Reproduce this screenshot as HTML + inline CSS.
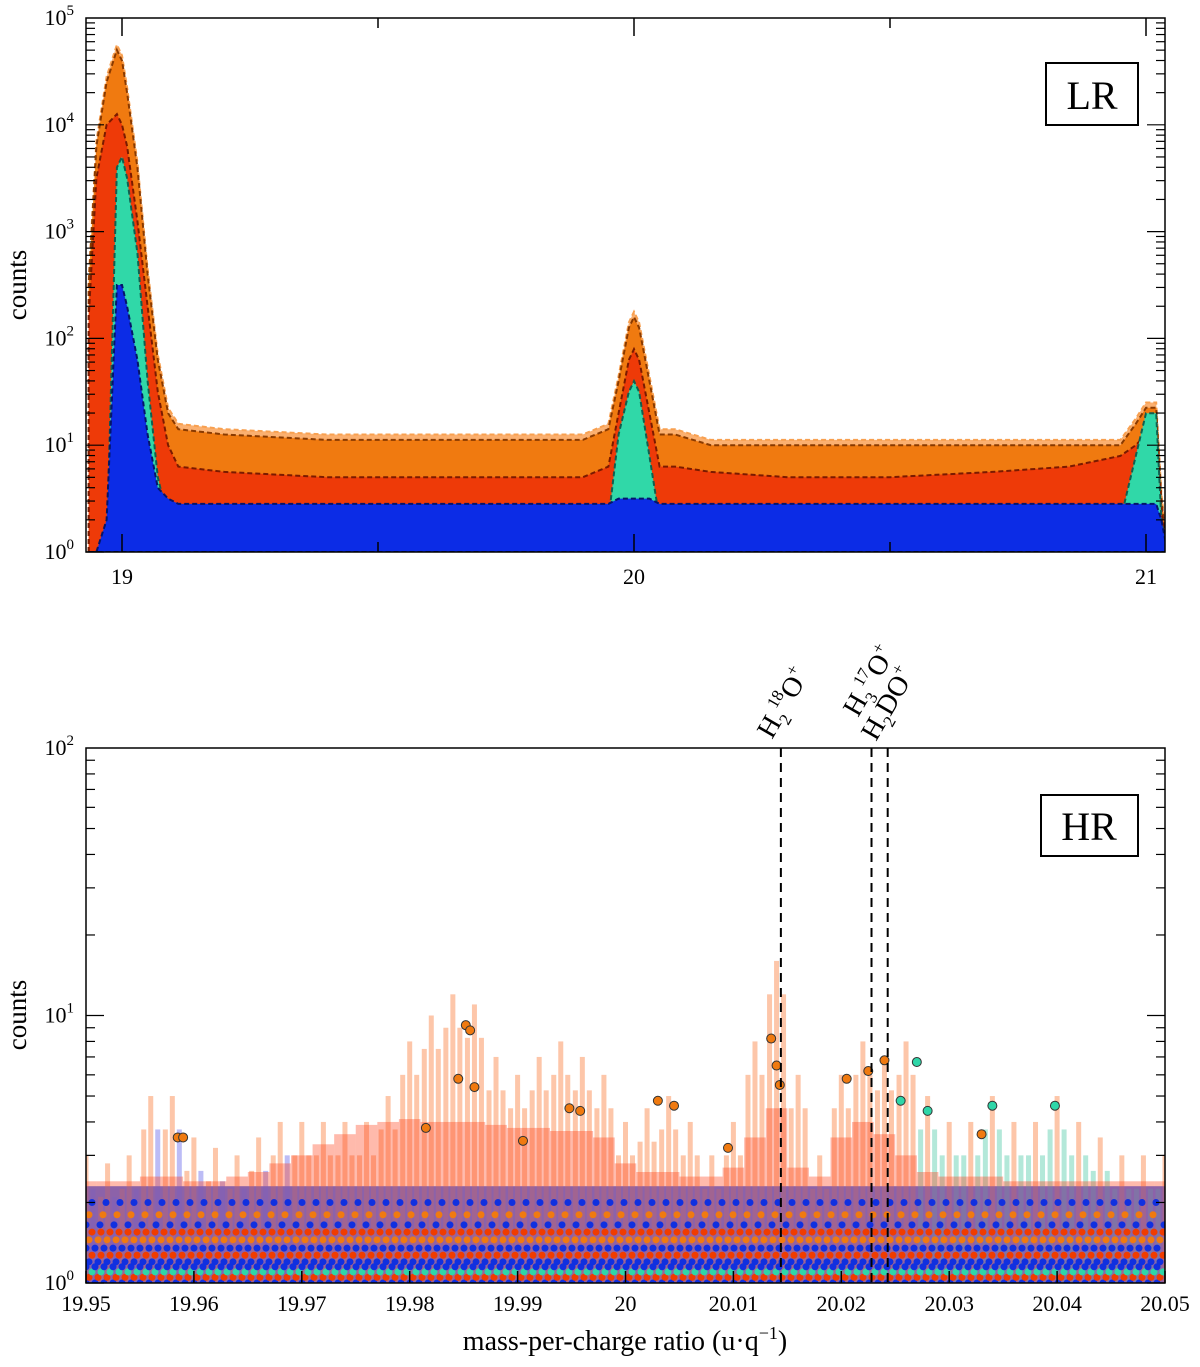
<!DOCTYPE html>
<html><head><meta charset="utf-8">
<style>
html,body{margin:0;padding:0;background:#fff;}
svg{display:block;font-family:"Liberation Serif",serif;}
</style></head>
<body>
<svg id="chart" width="1200" height="1367" viewBox="0 0 1200 1367" xmlns="http://www.w3.org/2000/svg">
<g id="lr"></g>
<g id="hr"></g>
</svg>
<script>
// ---------- LR panel data (log10 counts envelopes) ----------
const lrX = [18.935,18.95,18.97,18.99,19.0,19.01,19.03,19.05,19.07,19.09,19.11,19.2,19.4,19.6,19.8,19.9,19.95,19.97,19.99,20.0,20.01,20.03,20.05,20.08,20.15,20.3,20.5,20.7,20.85,20.95,20.98,21.0,21.02,21.03,21.04];
const lrOrange = [2.5,3.8,4.4,4.7,4.6,4.3,3.6,2.6,1.8,1.3,1.15,1.1,1.05,1.05,1.05,1.05,1.15,1.6,2.1,2.2,2.1,1.6,1.1,1.1,1.0,1.0,1.0,1.0,1.0,1.0,1.2,1.35,1.35,0.5,0.05];
const lrRed = [2.2,3.5,4.0,4.1,4.0,3.8,3.1,2.3,1.5,1.0,0.8,0.75,0.7,0.7,0.7,0.7,0.8,1.3,1.8,1.9,1.8,1.3,0.8,0.8,0.75,0.7,0.7,0.75,0.8,0.9,1.0,1.1,1.1,0.4,0.05];
const lrTeal = [0,0,0,3.6,3.7,3.5,2.8,1.6,0.7,0.3,0.2,0.2,0.2,0.2,0.2,0.2,0.3,1.1,1.5,1.6,1.5,0.9,0.3,0.3,0.2,0.2,0.2,0.2,0.2,0.3,0.9,1.3,1.3,0.3,0];
const lrBlue = [0,0,0.3,2.5,2.5,2.3,1.8,1.1,0.6,0.5,0.45,0.45,0.45,0.45,0.45,0.45,0.45,0.5,0.5,0.5,0.5,0.5,0.45,0.45,0.45,0.45,0.45,0.45,0.45,0.45,0.45,0.45,0.45,0.3,0.05];
const lrXTicks = [19,20,21];
const lrYTicks = [0,1,2,3,4,5];

// ---------- HR panel data (counts) ----------
const hrX = [19.950,19.952,19.954,19.956,19.958,19.960,19.962,19.964,19.966,19.968,19.970,19.972,19.974,19.976,19.978,19.980,19.982,19.984,19.986,19.988,19.990,19.992,19.994,19.996,19.998,20.000,20.002,20.004,20.006,20.008,20.010,20.012,20.014,20.016,20.018,20.020,20.022,20.024,20.026,20.028,20.030,20.032,20.034,20.036,20.038,20.040,20.042,20.044,20.046,20.048,20.050];
const hrTop = [3,2.8,3,5,5,3.5,3.2,3,3.5,4,4,4,4,4,5,8,10,12,11,7,6,7,8,7,6,4,4.5,5,4,3,4,8,16,6,3,6,8,7,8,5,4,4,5,4,4,5,4,3.5,3,3,3];
const hrRed = [2.4,2.4,2.4,2.5,2.5,2.4,2.4,2.5,2.6,2.8,3.0,3.3,3.6,3.9,4.0,4.1,4.0,4.0,4.0,3.9,3.8,3.8,3.7,3.7,3.5,2.8,2.6,2.6,2.5,2.5,2.7,3.5,4.5,2.7,2.5,3.5,4.0,3.6,3.0,2.6,2.5,2.5,2.5,2.4,2.4,2.4,2.4,2.4,2.4,2.4,2.4];
const hrPtX = [19.9585,19.9590,19.9852,19.9856,19.9845,19.9860,19.9948,19.9958,20.0030,20.0045,20.0135,20.0140,20.0143,20.0205,20.0225,20.0240,20.0255,20.0270,20.0280,20.0340,20.0398,20.0330,19.9905,19.9815,20.0095];
const hrPtY = [3.5,3.5,9.2,8.8,5.8,5.4,4.5,4.4,4.8,4.6,8.2,6.5,5.5,5.8,6.2,6.8,4.8,6.7,4.4,4.6,4.6,3.6,3.4,3.8,3.2];
const hrPtC = ["o","o","o","o","o","o","o","o","o","o","o","o","o","o","o","o","t","t","t","t","t","o","o","o","o"];
const hrXTicks = [19.95,19.96,19.97,19.98,19.99,20,20.01,20.02,20.03,20.04,20.05];
const hrXLabels = ["19.95","19.96","19.97","19.98","19.99","20","20.01","20.02","20.03","20.04","20.05"];
const hrLines = [20.0144,20.0228,20.0243];

const NS="http://www.w3.org/2000/svg";
function mk(tag,attrs,parent){const e=document.createElementNS(NS,tag);for(const k in attrs)e.setAttribute(k,attrs[k]);parent.appendChild(e);return e;}
const lr=document.getElementById('lr'), hr=document.getElementById('hr');

const L={x0:86,x1:1165,y0:18,y1:552};
const lx=v=>122+(v-19)*512, ly=l=>552-l*106.8;
const H={x0:86,x1:1165,y0:748,y1:1283};
const hx=v=>86+(v-19.95)*10790, hy=c=>1283-Math.log10(c)*267.5;

mk('clipPath',{id:'clipL'},lr); mk('rect',{x:L.x0,y:L.y0,width:L.x1-L.x0,height:L.y1-L.y0},document.getElementById('clipL'));
mk('clipPath',{id:'clipH'},hr); mk('rect',{x:H.x0,y:H.y0,width:H.x1-H.x0,height:H.y1-H.y0},document.getElementById('clipH'));

function area(parent,ys,fill,stroke,name){
  let d='M'+lx(lrX[0])+','+ly(0);
  for(let i=0;i<lrX.length;i++) d+=' L'+lx(lrX[i]).toFixed(1)+','+ly(ys[i]).toFixed(1);
  d+=' L'+lx(lrX[lrX.length-1])+','+ly(0)+' Z';
  const p=mk('path',{d:d,fill:fill,stroke:stroke,'stroke-width':2,'stroke-dasharray':'5 3','clip-path':'url(#clipL)'},parent);
  
  
}
area(lr,lrOrange.map(v=>v+0.05),'#fbb070','#f8a050','lr-orange-halo');
area(lr,lrOrange,'#f07a10','#8a3a00','lr-orange-series');
area(lr,lrRed,'#ee3a08','#7a1a00','lr-red-series');
area(lr,lrTeal,'#30d8a8','#106050','lr-teal-series');
area(lr,lrBlue,'#0c2ce6','#05156a','lr-blue-series');

function frame(parent,R,name){const r=mk('rect',{x:R.x0,y:R.y0,width:R.x1-R.x0,height:R.y1-R.y0,fill:'none',stroke:'#000','stroke-width':1.5},parent);}
frame(lr,L,'lr-axes-frame');
for(let d=0;d<5;d++){for(let m=1;m<10;m++){const y=ly(d+Math.log10(m));const len=m===1?18:9;
  mk('line',{x1:L.x0,x2:L.x0+len,y1:y,y2:y,stroke:'#000','stroke-width':1.2},lr);
  mk('line',{x1:L.x1,x2:L.x1-len,y1:y,y2:y,stroke:'#000','stroke-width':1.2},lr);}}
lrYTicks.forEach(t=>{const g=mk('text',{x:L.x0-12,y:ly(t)+7,'text-anchor':'end','font-size':22},lr);
  
  
  g.textContent='10';const s=mk('tspan',{dy:-10,'font-size':15},g);s.textContent=t;});
for(let v=19;v<=21.001;v+=0.5){const x=lx(v);const len=Math.abs(v-Math.round(v))<0.01?18:10;
  mk('line',{x1:x,x2:x,y1:L.y1,y2:L.y1-len,stroke:'#000','stroke-width':1.5},lr);
  mk('line',{x1:x,x2:x,y1:L.y0,y2:L.y0+len,stroke:'#000','stroke-width':1.5},lr);}
lrXTicks.forEach(t=>{const g=mk('text',{x:lx(t),y:584,'text-anchor':'middle','font-size':22},lr);
  
  
  g.textContent=t;});
{const t=mk('text',{x:26,y:285,'text-anchor':'middle','font-size':27,transform:'rotate(-90 26 285)'},lr);t.textContent='counts';}
{const b=mk('rect',{x:1046,y:63,width:92,height:62,fill:'#fff',stroke:'#000','stroke-width':2},lr);
 const t=mk('text',{x:1092,y:109,'text-anchor':'middle','font-size':40},lr);t.textContent='LR';}

// ---------- HR ----------
const hg=mk('g',{'clip-path':'url(#clipH)'},hr);
{const r=mk('rect',{x:H.x0,y:hy(2.3),width:H.x1-H.x0,height:hy(1)-hy(2.3),fill:'#7050b0',opacity:0.6},hg);}
for(let i=0;i<hrX.length;i++){
  for(let k=-1;k<=1;k++){
    const c=hrTop[i]*(k===0?1:0.75);
    const col = (hrX[i]>20.026 && k!==0) ? '#80d8c0' : (k===1 && hrX[i]<19.97 ? '#9090f0' : '#fba070');
    const b=mk('rect',{x:hx(hrX[i])+k*7-2.5,y:hy(c),width:5,height:hy(1)-hy(c),fill:col,opacity:0.6},hg);
    
    
  }
}
for(let i=0;i<hrX.length;i++){
  const b=mk('rect',{x:hx(hrX[i])-10.8,y:hy(hrRed[i]),width:21.6,height:hy(1)-hy(hrRed[i]),fill:'#ff3a10',opacity:0.35},hg);
  
  
}
{const r=mk('rect',{x:H.x0,y:hy(2.3),width:H.x1-H.x0,height:hy(1)-hy(2.3),fill:'#2040e0',opacity:0.35},hg);}
const rowLevels=[1.0,1.05,1.1,1.15,1.2,1.27,1.35,1.45,1.55,1.65,1.8,2.0];
const rowColors=['#1030e0','#f03c00','#2fd6a8','#1030e0','#1030e0','#f03c00','#1030e0','#f07a10','#f03c00','#1030e0','#f07a10','#1030e0'];
rowLevels.forEach((lv,i)=>{
  const l=mk('line',{x1:H.x0+(i%3)*3,x2:H.x1,y1:hy(lv),y2:hy(lv),stroke:rowColors[i],'stroke-width':7,'stroke-linecap':'round','stroke-dasharray':'0 '+(i>8?14:9)},hg);
  
  
});
for(let i=0;i<hrPtX.length;i++){
  const c=mk('circle',{cx:hx(hrPtX[i]),cy:hy(hrPtY[i]),r:4.5,fill:hrPtC[i]==='t'?'#2fd6a8':'#f07a10',stroke:'#333','stroke-width':1},hg);
  
  
}
hrLines.forEach(v=>{const l=mk('line',{x1:hx(v),x2:hx(v),y1:H.y0,y2:H.y1,stroke:'#000','stroke-width':2,'stroke-dasharray':'9 6'},hr);
  
  });
frame(hr,H,'hr-axes-frame');
for(let d=0;d<2;d++){for(let m=1;m<10;m++){const y=hy(Math.pow(10,d)*m);const len=m===1?18:9;
  mk('line',{x1:H.x0,x2:H.x0+len,y1:y,y2:y,stroke:'#000','stroke-width':1.2},hr);
  mk('line',{x1:H.x1,x2:H.x1-len,y1:y,y2:y,stroke:'#000','stroke-width':1.2},hr);}}
[0,1,2].forEach(t=>{const g=mk('text',{x:H.x0-12,y:hy(Math.pow(10,t))+7,'text-anchor':'end','font-size':22},hr);
  
  
  g.textContent='10';const s=mk('tspan',{dy:-10,'font-size':15},g);s.textContent=t;});
hrXTicks.forEach((t,i)=>{const x=hx(t);
  mk('line',{x1:x,x2:x,y1:H.y1,y2:H.y1-12,stroke:'#000','stroke-width':1.5},hr);
  const g=mk('text',{x:x,y:1311,'text-anchor':'middle','font-size':22},hr);
  
  
  g.textContent=hrXLabels[i];});
{const t=mk('text',{x:26,y:1015,'text-anchor':'middle','font-size':27,transform:'rotate(-90 26 1015)'},hr);t.textContent='counts';}
{const t=mk('text',{x:625,y:1350,'text-anchor':'middle','font-size':28},hr);
 t.textContent='mass-per-charge ratio (u·q';const s=mk('tspan',{dy:-11,'font-size':18},t);s.textContent='−1';const s2=mk('tspan',{dy:11},t);s2.textContent=')';}
{const b=mk('rect',{x:1041,y:795,width:97,height:61,fill:'#fff',stroke:'#000','stroke-width':2},hr);
 const t=mk('text',{x:1089,y:840,'text-anchor':'middle','font-size':40},hr);t.textContent='HR';}
function species(x,y,parts,name){const t=mk('text',{x:x,y:y,'font-size':28,transform:'rotate(-60 '+x+' '+y+')'},hr);
  
  
  parts.forEach(p=>{const s=mk('tspan',{dy:p[1],'font-size':p[2]},t);s.textContent=p[0];});}
species(772,740,[['H',0,28],['2',7,17],['18',-19,17],['O',12,28],['+',-12,17]],'h2-18o-label');
species(858,718,[['H',0,28],['3',7,17],['17',-19,17],['O',12,28],['+',-12,17]],'h3-17o-label');
species(876,742,[['H',0,28],['2',7,17],['DO',-7,28],['+',-12,17]],'h2do-label');
</script>
</body></html>
